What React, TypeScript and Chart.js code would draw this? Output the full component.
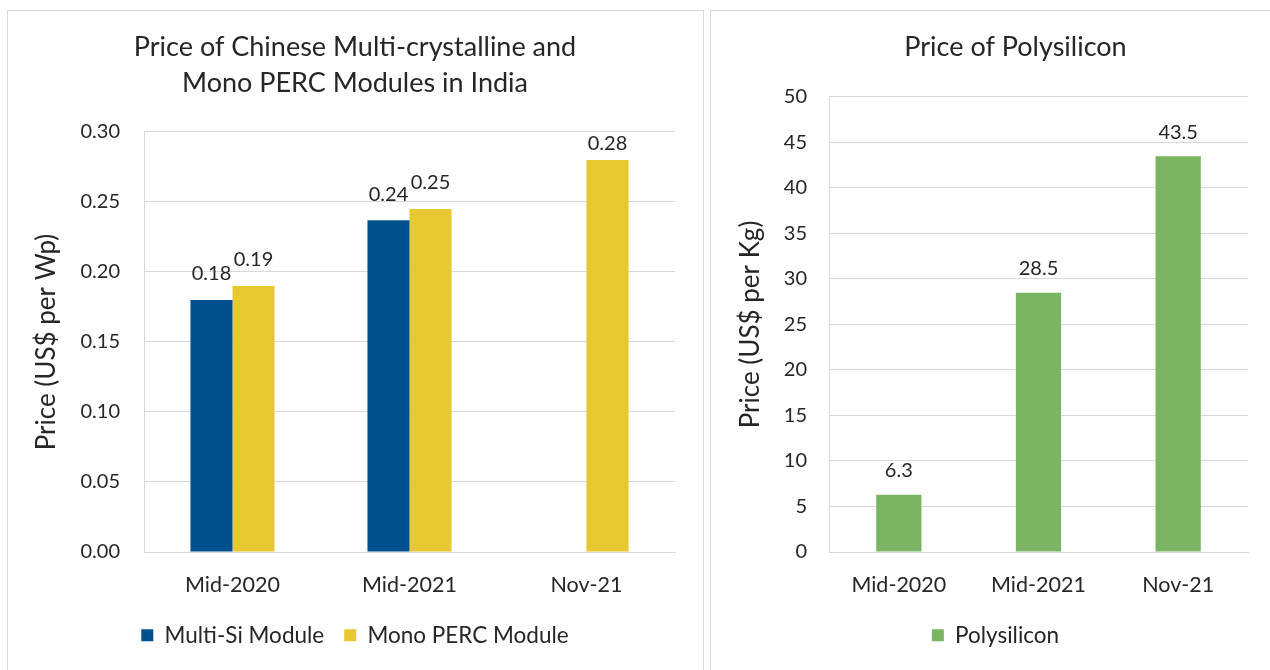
import React, { useEffect, useRef } from "react";
import { Chart, registerables } from "chart.js";

Chart.register(...registerables);

const periods = ["Mid-2020", "Mid-2021", "Nov-21"];
const multiSi = [0.18, 0.237, null];
const monoPerc = [0.19, 0.245, 0.28];
const polysilicon = [6.3, 28.5, 43.5];

const moduleTicks = [0, 0.05, 0.1, 0.15, 0.2, 0.25, 0.3];
const polyTicks = [0, 5, 10, 15, 20, 25, 30, 35, 40, 45, 50];

const FONT = "Lato, 'Open Sans', sans-serif";
const TEXT = "#262626";
const GRID = "#d9d9d9";
const BLUE = "#02518f";
const YELLOW = "#e6c930";
const GREEN = "#7bb462";

const valueLabels = {
  id: "valueLabels",
  afterDatasetsDraw(chart: any, _args: any, opts: any) {
    const ctx = chart.ctx;
    ctx.save();
    ctx.font = `20px ${FONT}`;
    ctx.fillStyle = TEXT;
    ctx.textAlign = "center";
    ctx.textBaseline = "middle";
    const n = chart.data.datasets.length;
    chart.data.datasets.forEach((ds: any, di: number) => {
      const meta = chart.getDatasetMeta(di);
      ds.data.forEach((v: any, i: number) => {
        if (v === null || v === undefined) return;
        let solo = true;
        for (let k = 0; k < n; k++) {
          if (k !== di) {
            const o = chart.data.datasets[k].data[i];
            if (o !== null && o !== undefined) solo = false;
          }
        }
        const el = meta.data[i];
        const off = solo ? opts.soloOffset : opts.offset;
        const f = Math.pow(10, opts.decimals);
        const txt = (Math.round(v * f) / f).toFixed(opts.decimals);
        ctx.fillText(txt, el.x, el.y - off);
      });
    });
    ctx.restore();
  },
};

const shiftBlocks = {
  id: "shiftBlocks",
  afterLayout(chart: any, _args: any, opts: any) {
    if (chart.titleBlock && opts.titleDx) chart.titleBlock.left += opts.titleDx * 2;
    if (chart.legend && opts.legendDx) chart.legend.left += opts.legendDx * 2;
  },
};

function makeOptions(p: any) {
  return {
    responsive: false,
    animation: false,
    devicePixelRatio: 1,
    layout: { padding: { left: p.side, right: p.side, top: 0, bottom: 10.5 } },
    plugins: {
      title: {
        display: true,
        text: p.title,
        color: TEXT,
        font: { family: FONT, size: 27, weight: "normal", lineHeight: 1.3333 },
        padding: { top: 18, bottom: p.titleBottom },
      },
      legend: {
        position: "bottom",
        labels: {
          color: TEXT,
          font: { family: FONT, size: 22.5 },
          boxWidth: 12,
          boxHeight: 12,
          padding: 20,
        },
      },
      tooltip: { enabled: false },
      valueLabels: p.labels,
      shiftBlocks: { titleDx: p.titleDx || 0, legendDx: p.legendDx || 0 },
    },
    scales: {
      x: {
        afterFit(scale: any) {
          scale.height = 52;
        },
        grid: { display: false, drawTicks: false },
        border: { display: true, color: GRID, width: 1 },
        ticks: { color: TEXT, font: { family: FONT, size: 21.5 }, padding: 20 },
      },
      y: {
        min: p.ticks[0],
        max: p.ticks[p.ticks.length - 1],
        afterFit(scale: any) {
          scale.width = p.axisWidth;
        },
        afterBuildTicks(scale: any) {
          scale.ticks = p.ticks.map((v: number) => ({ value: v }));
        },
        grid: { color: GRID, lineWidth: 1, drawTicks: false },
        border: { display: true, color: GRID, width: 1 },
        ticks: {
          color: TEXT,
          font: { family: FONT, size: 20 },
          padding: p.tickPad,
          callback: (v: any) => Number(v).toFixed(p.decimals),
        },
        title: {
          display: true,
          text: p.yTitle,
          color: TEXT,
          font: { family: FONT, size: 26, lineHeight: 1 },
          padding: { top: p.yTitlePad, bottom: 0 },
        },
      },
    },
  };
}

function ModuleChart() {
  const ref = useRef<HTMLCanvasElement>(null);
  useEffect(() => {
    const chart = new Chart(ref.current as HTMLCanvasElement, {
      type: "bar",
      data: {
        labels: periods,
        datasets: [
          { label: "Multi-Si Module", data: multiSi, backgroundColor: BLUE, categoryPercentage: 0.475, barPercentage: 1 },
          { label: "Mono PERC Module", data: monoPerc, backgroundColor: YELLOW, categoryPercentage: 0.475, barPercentage: 1 },
        ],
      },
      options: makeOptions({
        title: ["Price of Chinese Multi-crystalline and", "Mono PERC Modules in India"],
        titleBottom: 31,
        side: 27,
        axisWidth: 109,
        tickPad: 24,
        ticks: moduleTicks,
        decimals: 2,
        yTitle: "Price (US$ per Wp)",
        yTitlePad: -1,
        labels: { offset: 26, soloOffset: 16, decimals: 2 },
      }) as any,
      plugins: [valueLabels, shiftBlocks],
    });
    return () => chart.destroy();
  }, []);
  return <canvas ref={ref} width={694} height={656} style={{ display: "block", width: 694, height: 656 }} />;
}

function PolyChart() {
  const ref = useRef<HTMLCanvasElement>(null);
  useEffect(() => {
    const chart = new Chart(ref.current as HTMLCanvasElement, {
      type: "bar",
      data: {
        labels: periods,
        datasets: [
          { label: "Polysilicon", data: polysilicon, backgroundColor: GREEN, categoryPercentage: 0.324, barPercentage: 1 },
        ],
      },
      options: makeOptions({
        title: "Price of Polysilicon",
        titleBottom: 32,
        side: 22,
        axisWidth: 96,
        tickPad: 22,
        ticks: polyTicks,
        decimals: 0,
        yTitle: "Price (US$ per Kg)",
        yTitlePad: 5,
        labels: { offset: 24, soloOffset: 24, decimals: 1 },
        titleDx: 25,
        legendDx: 5,
      }) as any,
      plugins: [valueLabels, shiftBlocks],
    });
    return () => chart.destroy();
  }, []);
  return <canvas ref={ref} width={559} height={656} style={{ display: "block", width: 559, height: 656 }} />;
}

export default function App() {
  return (
    <div style={{ position: "fixed", left: 0, top: 0, width: 1270, height: 670, overflow: "hidden", background: "#fff" }}>
      <div style={{ position: "absolute", left: 7, top: 10, width: 697, height: 700, boxSizing: "border-box", border: `1px solid ${GRID}` }}>
        <ModuleChart />
      </div>
      <div style={{ position: "absolute", left: 710, top: 10, width: 620, height: 700, boxSizing: "border-box", border: `1px solid ${GRID}` }}>
        <PolyChart />
      </div>
    </div>
  );
}
